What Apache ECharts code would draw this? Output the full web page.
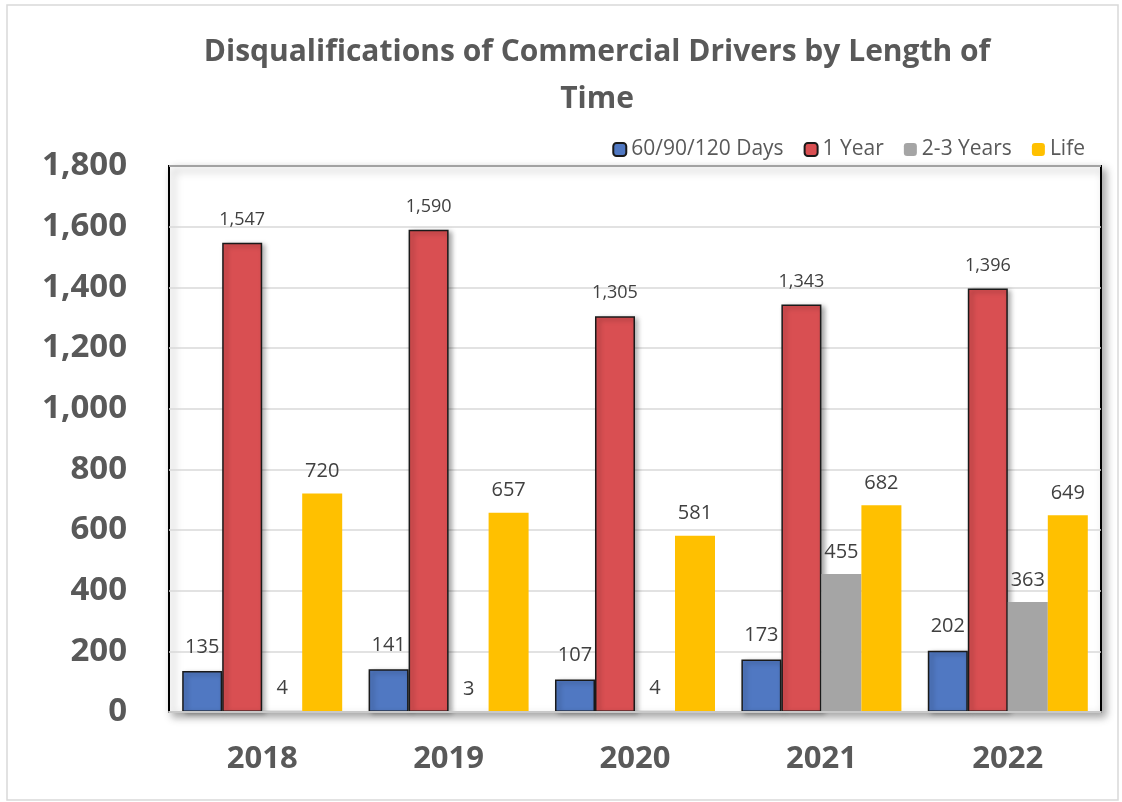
<!DOCTYPE html>
<html>
<head>
<meta charset="utf-8">
<script src="https://cdn.jsdelivr.net/npm/echarts@6/dist/echarts.min.js"></script>
<style>
html,body{margin:0;padding:0;background:#fff;}
#chart{width:1122px;height:802px;}
</style>
</head>
<body>
<div id="chart"></div>
<script>
const categories = ['2018', '2019', '2020', '2021', '2022'];
const days = [135, 141, 107, 173, 202];
const oneYear = [1547, 1590, 1305, 1343, 1396];
const twoThreeYears = [4, 3, 4, 455, 363];
const life = [720, 657, 581, 682, 649];
const seriesNames = ['60/90/120 Days', '1 Year', '2-3 Years', 'Life'];
const yTicks = { min: 0, max: 1800, interval: 200 };

const FONT = '"Open Sans", Lato, sans-serif';
const fmt = v => v.toLocaleString('en-US');

function mkLabel(size, dist) {
  return {
    show: true, position: 'top', distance: dist,
    color: '#404040', fontFamily: FONT, fontSize: size,
    formatter: p => fmt(p.value)
  };
}

const chart = echarts.init(document.getElementById('chart'));
chart.setOption({
  backgroundColor: '#ffffff',
  animation: false,
  title: {
    text: 'Disqualifications of Commercial Drivers by Length of\nTime',
    left: 592, top: 24, textAlign: 'center',
    textStyle: { fontFamily: FONT, fontWeight: 'bold', fontSize: 30, color: '#595959', lineHeight: 47 }
  },
  legend: {
    top: 134, right: 32, itemWidth: 13, itemHeight: 13, itemGap: 20,
    textStyle: { fontFamily: FONT, fontSize: 21, color: '#595959' },
    data: seriesNames
  },
  graphic: [{
    type: 'rect', shape: { x: 7, y: 5, width: 1111, height: 795 },
    style: { fill: 'none', stroke: '#d9d9d9', lineWidth: 1.5 }, z: -1
  }],
  grid: {
    left: 169, right: 21, top: 166, bottom: 90,
    show: true, borderColor: '#000', borderWidth: 2, backgroundColor: '#fff',
    shadowColor: 'rgba(0,0,0,0.35)', shadowBlur: 8, shadowOffsetX: 4, shadowOffsetY: 4
  },
  xAxis: {
    type: 'category', data: categories,
    axisLine: { show: true, lineStyle: { color: '#c8c8c8', width: 2 } },
    axisTick: { show: false },
    axisLabel: { margin: 32, fontFamily: FONT, fontWeight: 'bold', fontSize: 31, color: '#595959' },
    z: 5
  },
  yAxis: {
    type: 'value', min: yTicks.min, max: yTicks.max, interval: yTicks.interval,
    axisLine: { show: false }, axisTick: { show: false },
    splitLine: { lineStyle: { color: '#d9d9d9', width: 1.5 } },
    axisLabel: { margin: 42, fontFamily: FONT, fontWeight: 'bold', fontSize: 33, color: '#595959', formatter: v => fmt(v) }
  },
  series: [
    { name: seriesNames[0], type: 'bar', data: days, barWidth: 40, barGap: '0%',
      itemStyle: { color: '#5078c2', borderColor: '#1a1a1a', borderWidth: 1.5,
        shadowColor: 'rgba(0,0,0,0.35)', shadowBlur: 5, shadowOffsetX: 3, shadowOffsetY: 2 },
      label: mkLabel(20, 14) },
    { name: seriesNames[1], type: 'bar', data: oneYear, barWidth: 40, barGap: '0%',
      itemStyle: { color: '#d94f52', borderColor: '#1a1a1a', borderWidth: 1.5,
        shadowColor: 'rgba(0,0,0,0.35)', shadowBlur: 5, shadowOffsetX: 3, shadowOffsetY: 2 },
      label: mkLabel(18, 14) },
    { name: seriesNames[2], type: 'bar', data: twoThreeYears, barWidth: 40, barGap: '0%',
      itemStyle: { color: '#a5a5a5' }, label: mkLabel(20, 12) },
    { name: seriesNames[3], type: 'bar', data: life, barWidth: 40, barGap: '0%',
      itemStyle: { color: '#ffc000' }, label: mkLabel(20, 12) }
  ]
});
</script>
</body>
</html>
